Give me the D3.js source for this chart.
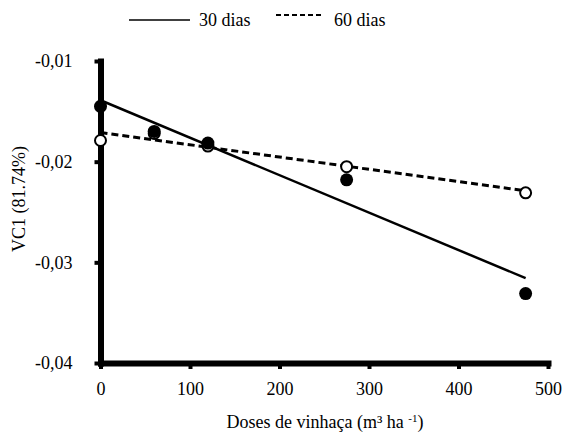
<!DOCTYPE html>
<html>
<head>
<meta charset="utf-8">
<script src="https://cdn.jsdelivr.net/npm/d3@7"></script>
<style>
  body { margin: 0; background: #fff; }
  svg text { font-family: "Liberation Serif", "Times New Roman", serif; fill: #000; }
</style>
</head>
<body>
<svg id="chart" width="565" height="435"></svg>
<script>
// doses (m3/ha) and VC1 scores
var doses = [0, 60, 120, 275, 475];
var vc30 = [-0.0145, -0.0170, -0.01815, -0.0218, -0.0331];
var vc60 = [-0.0179, -0.0172, -0.01845, -0.0205, -0.0231];
// fitted lines [intercept, slope]
var fit30 = [-0.0139, -0.0000372];
var fit60 = [-0.0171, -0.0000122];
var xTicks = [0, 100, 200, 300, 400, 500];
var yTicks = [-0.04, -0.03, -0.02, -0.01];

var svg = d3.select("#chart");

var x = d3.scaleLinear().domain([0, 500]).range([100.5, 548]);
var y = d3.scaleLinear().domain([-0.04, -0.01]).range([363, 61]);

var loc = d3.formatLocale({decimal: ",", thousands: ".", grouping: [3], currency: ["", ""], minus: "-"});
var fmt = loc.format(".2f");

// x axis
var gx = svg.append("g")
  .attr("transform", "translate(0," + y(-0.04) + ")")
  .call(d3.axisBottom(x).tickValues(xTicks).tickSize(6).tickSizeOuter(0).tickPadding(13))
  .attr("font-family", null).attr("font-size", 18);
gx.select(".domain").attr("stroke-width", 6).attr("stroke-linecap", "square");
gx.selectAll(".tick line").attr("stroke-width", 4);

// y axis
var gy = svg.append("g")
  .attr("transform", "translate(" + x(0) + ",0)")
  .call(d3.axisLeft(y).tickValues(yTicks).tickFormat(fmt).tickSize(6).tickSizeOuter(0).tickPadding(22))
  .attr("font-family", null).attr("font-size", 18);
gy.select(".domain").attr("stroke-width", 6).attr("stroke-linecap", "square");
gy.selectAll(".tick line").attr("stroke-width", 4);

// regression lines
var line = d3.line().x(function(d) { return x(d[0]); }).y(function(d) { return y(d[1]); });
function fitPts(f) {
  return [0, 475].map(function(d) { return [d, f[0] + f[1] * d]; });
}
svg.append("path").datum(fitPts(fit30)).attr("d", line)
  .attr("fill", "none").attr("stroke", "#000").attr("stroke-width", 2.5);
svg.append("path").datum(fitPts(fit60)).attr("d", line)
  .attr("fill", "none").attr("stroke", "#000").attr("stroke-width", 3).attr("stroke-dasharray", "7,4");

// points: open (60 dias) then filled (30 dias)
svg.append("g").selectAll("circle").data(doses).enter().append("circle")
  .attr("cx", function(d) { return x(d); })
  .attr("cy", function(d, i) { return y(vc60[i]); })
  .attr("r", 5.5).attr("fill", "#fff").attr("stroke", "#000").attr("stroke-width", 2);
svg.append("g").selectAll("circle").data(doses).enter().append("circle")
  .attr("cx", function(d) { return x(d); })
  .attr("cy", function(d, i) { return y(vc30[i]); })
  .attr("r", 6.5).attr("fill", "#000");

// axis titles
var xt = svg.append("text").attr("x", 325).attr("y", 428).attr("text-anchor", "middle").attr("font-size", 18);
xt.append("tspan").text("Doses de vinhaça (m³ ha ");
xt.append("tspan").attr("font-size", 11).attr("dy", -6).text("-1");
xt.append("tspan").attr("dy", 6).text(")");

svg.append("text")
  .attr("transform", "translate(25,199) rotate(-90)")
  .attr("text-anchor", "middle").attr("font-size", 18)
  .text("VC1 (81.74%)");

// legend
var leg = svg.append("g");
leg.append("line").attr("x1", 129).attr("x2", 190).attr("y1", 20).attr("y2", 20)
  .attr("stroke", "#000").attr("stroke-width", 1.5);
leg.append("text").attr("x", 199).attr("y", 26).attr("font-size", 18).text("30 dias");
leg.append("line").attr("x1", 276).attr("x2", 322).attr("y1", 15).attr("y2", 15)
  .attr("stroke", "#000").attr("stroke-width", 2).attr("stroke-dasharray", "5,3");
leg.append("text").attr("x", 334).attr("y", 26).attr("font-size", 18).text("60 dias");
</script>
</body>
</html>
